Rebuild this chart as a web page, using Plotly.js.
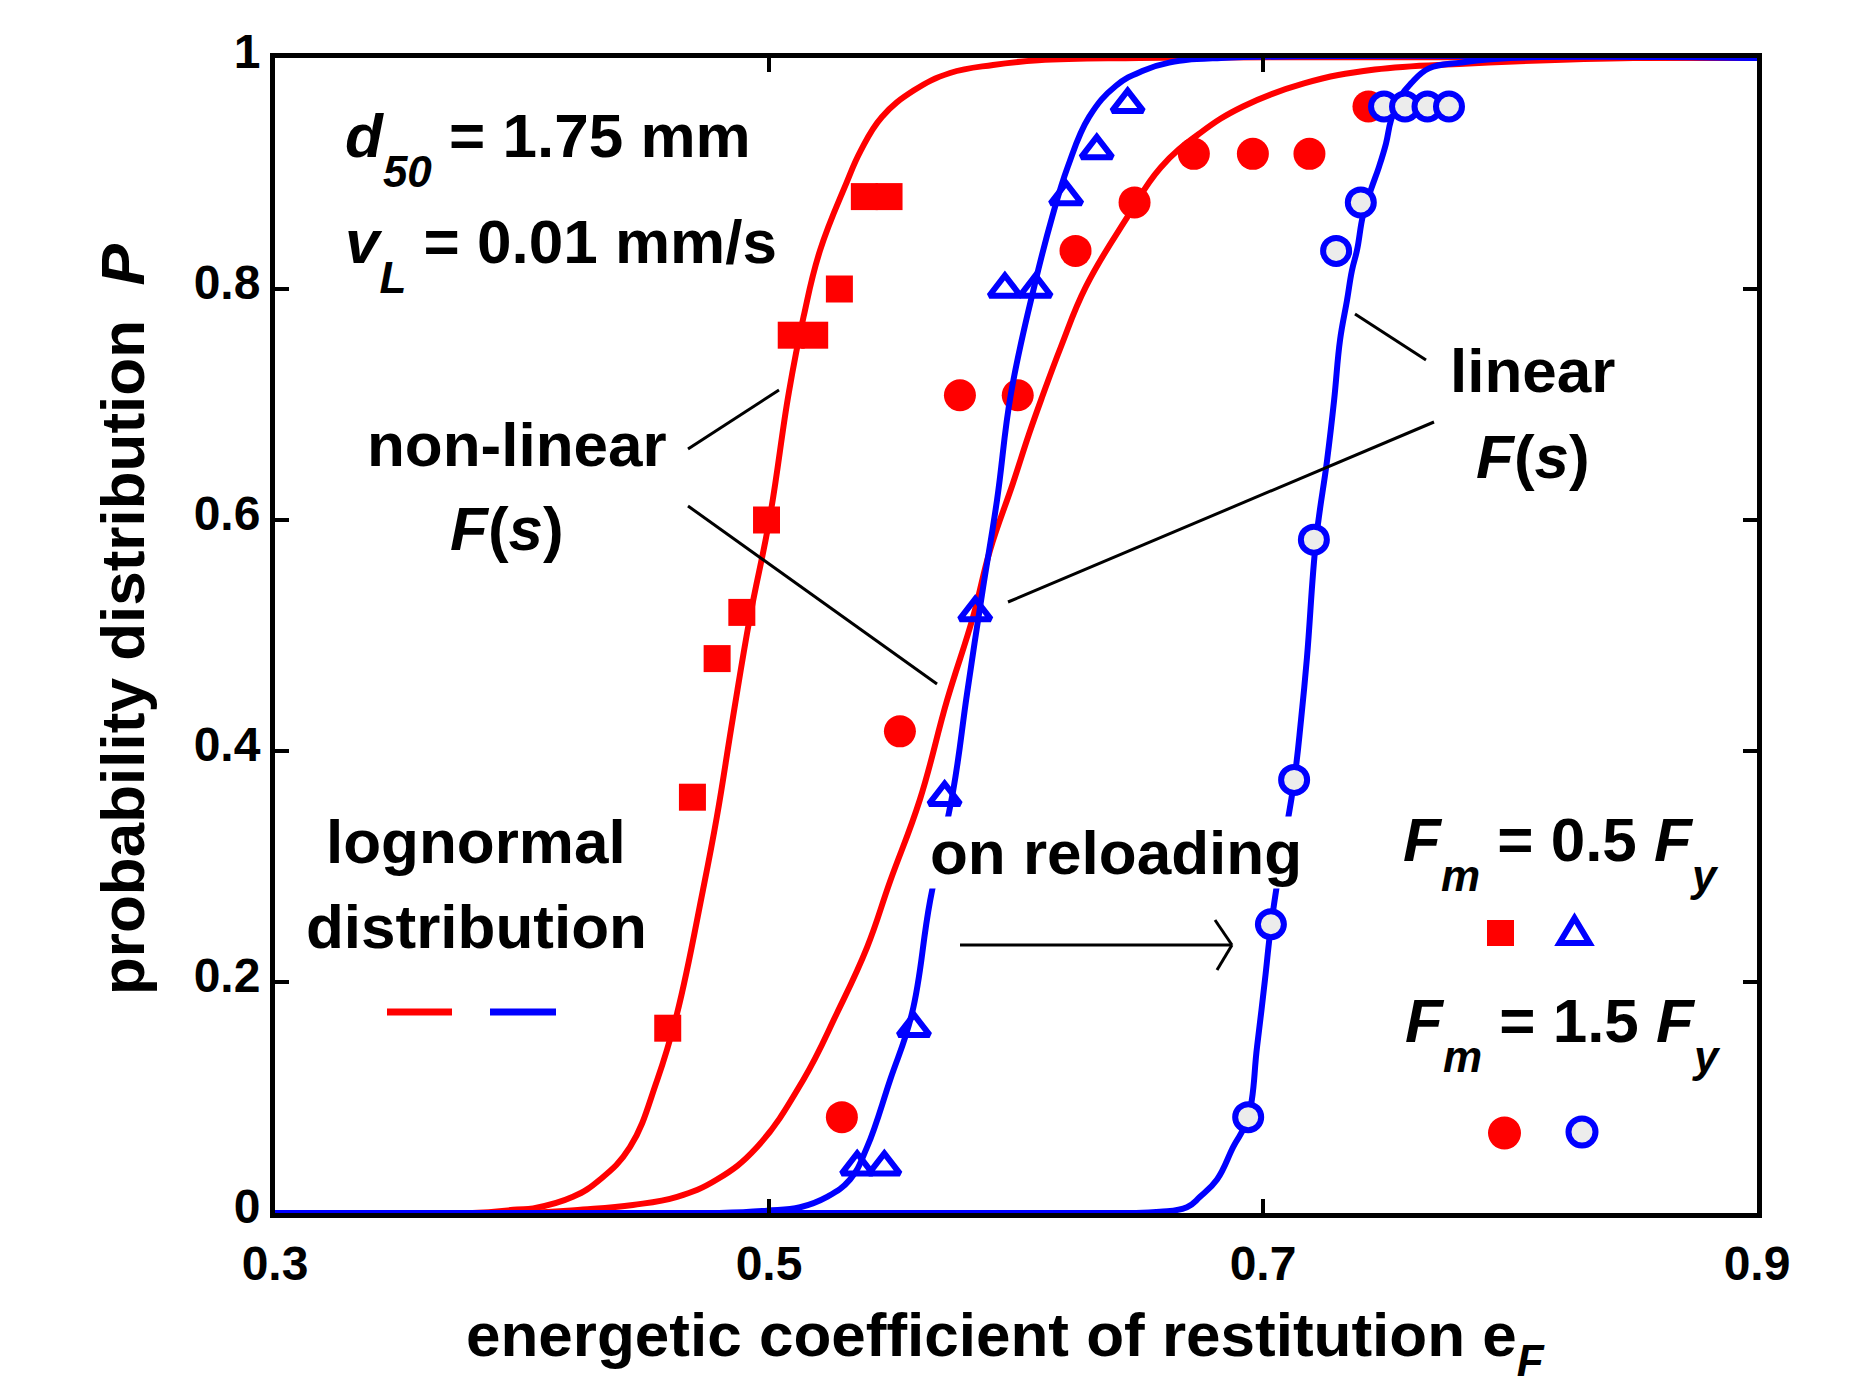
<!DOCTYPE html>
<html>
<head>
<meta charset="utf-8">
<script src="https://cdn.plot.ly/plotly-3.0.1.min.js"></script>
<style>html,body{margin:0;padding:0;background:#fff;}#chart{width:1851px;height:1389px;}</style>
</head>
<body>
<div id="chart"></div>
<script>
// ---------------- data ----------------
// Fm = 0.5 Fy, non-linear F(s): filled red squares
const sqX = [0.459, 0.469, 0.479, 0.489, 0.499, 0.509, 0.5185, 0.5285, 0.5386, 0.5486];
const sqY = [0.16, 0.36, 0.48, 0.52, 0.60, 0.76, 0.76, 0.80, 0.88, 0.88];
// Fm = 0.5 Fy, linear F(s): open blue triangles
const triX = [0.5357, 0.5467, 0.5587, 0.5711, 0.5835, 0.5955, 0.6079, 0.6203, 0.6327, 0.6452];
const triY = [0.04, 0.04, 0.16, 0.36, 0.52, 0.80, 0.80, 0.88, 0.92, 0.96];
// Fm = 1.5 Fy, non-linear F(s): filled red circles
const rcX = [0.5295, 0.553, 0.5773, 0.6007, 0.6241, 0.648, 0.672, 0.6959, 0.7188, 0.7427];
const rcY = [0.083, 0.417, 0.708, 0.708, 0.833, 0.875, 0.917, 0.917, 0.917, 0.958];
// Fm = 1.5 Fy, linear F(s): open blue circles
const bcX = [0.694, 0.7032, 0.7126, 0.7206, 0.7296, 0.7396, 0.749, 0.7575, 0.7666, 0.7753];
const bcY = [0.083, 0.25, 0.375, 0.583, 0.833, 0.875, 0.958, 0.958, 0.958, 0.958];

// lognormal distribution curves
const fitRedAX = [0.30, 0.38, 0.398, 0.4045, 0.4206, 0.4316, 0.4437, 0.4547, 0.4628, 0.4733, 0.4789, 0.4854, 0.4923, 0.5004, 0.508, 0.514, 0.5206, 0.5312, 0.5372, 0.5457, 0.5587, 0.5733, 0.5907, 0.609, 0.65, 0.90];
const fitRedAY = [0, 0, 0.003, 0.004, 0.014, 0.029, 0.057, 0.115, 0.173, 0.28, 0.343, 0.429, 0.516, 0.603, 0.71, 0.776, 0.833, 0.891, 0.920, 0.949, 0.972, 0.987, 0.994, 0.998, 1, 1];

const fitRedBX = [0.30, 0.40, 0.4247, 0.4449, 0.4628, 0.4789, 0.4951, 0.5138, 0.5275, 0.5397, 0.549, 0.5611, 0.5721, 0.5826, 0.5895, 0.5988, 0.6052, 0.6105, 0.6182, 0.6283, 0.645, 0.6585, 0.6745, 0.6919, 0.7166, 0.7453, 0.7814, 0.8016, 0.85, 0.90];
const fitRedBY = [0, 0, 0.003, 0.007, 0.014, 0.029, 0.057, 0.115, 0.173, 0.230, 0.287, 0.358, 0.444, 0.516, 0.574, 0.632, 0.674, 0.706, 0.75, 0.802, 0.862, 0.905, 0.935, 0.958, 0.978, 0.990, 0.995, 0.997, 1, 1];

const fitBlueAX = [0.30, 0.48, 0.4992, 0.5126, 0.5235, 0.5328, 0.5397, 0.549, 0.5579, 0.5652, 0.5745, 0.5802, 0.5862, 0.5923, 0.598, 0.6077, 0.6146, 0.621, 0.6296, 0.6405, 0.6514, 0.662, 0.683, 0.90];
const fitBlueAY = [0, 0, 0.002, 0.005, 0.014, 0.029, 0.057, 0.115, 0.173, 0.27, 0.365, 0.45, 0.535, 0.617, 0.71, 0.805, 0.862, 0.906, 0.949, 0.976, 0.989, 0.996, 1, 1];

const fitBlueBX = [0.30, 0.64, 0.6583, 0.6692, 0.6745, 0.6814, 0.6879, 0.6939, 0.6976, 0.7008, 0.7032, 0.7073, 0.7126, 0.7154, 0.7178, 0.7215, 0.7259, 0.7288, 0.7312, 0.734, 0.736, 0.7381, 0.7405, 0.7437, 0.747, 0.7498, 0.7518, 0.7555, 0.7599, 0.7672, 0.7802, 0.80, 0.90];
const fitBlueBY = [0, 0, 0.001, 0.005, 0.014, 0.029, 0.057, 0.082, 0.144, 0.202, 0.248, 0.306, 0.374, 0.427, 0.481, 0.583, 0.651, 0.704, 0.756, 0.790, 0.816, 0.834, 0.864, 0.886, 0.906, 0.926, 0.946, 0.966, 0.978, 0.991, 0.996, 1, 1];

const xTickVals = [0.3, 0.5, 0.7, 0.9];
const xTickText = ['0.3', '0.5', '0.7', '0.9'];
const yTickVals = [0, 0.2, 0.4, 0.6, 0.8, 1];
const yTickText = ['0', '0.2', '0.4', '0.6', '0.8', '1'];

// ---------------- styling / geometry ----------------
const W = 1851, H = 1389;
const PL = 275, PR = 1757, PT = 58, PB = 1213;
const X0 = 0.3, X1 = 0.9;
const px2x = X => X0 + (X - PL) / (PR - PL) * (X1 - X0);
const py2y = Y => (PB - Y) / (PB - PT);
const px2p = X => (X - PL) / (PR - PL);
const py2p = Y => (PB - Y) / (PB - PT);
const RED = '#ff0000', BLUE = '#0000ff', BLK = '#000000';
const FONT = 'Liberation Sans, Arial, Helvetica, sans-serif';
const AF = 62, SUBF = 44, SUBSH = 30;
const sub = (t, sh) => `<span style="font-size:${SUBF}px;baseline-shift:-${sh || SUBSH}px"><i>${t}</i></span>`;
const SM = 1.2;

const traces = [
  {x: sqX, y: sqY, mode: 'markers', type: 'scatter', name: 'Fm=0.5Fy non-linear',
   marker: {symbol: 'square', size: 27, color: RED, line: {width: 0}}},
  {x: rcX, y: rcY, mode: 'markers', type: 'scatter', name: 'Fm=1.5Fy non-linear',
   marker: {symbol: 'circle', size: 32, color: RED, line: {width: 0}}},
  {x: fitRedAX, y: fitRedAY, mode: 'lines', type: 'scatter', name: 'lognormal A',
   line: {color: RED, width: 6, shape: 'spline', smoothing: SM}},
  {x: fitRedBX, y: fitRedBY, mode: 'lines', type: 'scatter', name: 'lognormal B',
   line: {color: RED, width: 6, shape: 'spline', smoothing: SM}},
  {x: fitBlueAX, y: fitBlueAY, mode: 'lines', type: 'scatter', name: 'lognormal C',
   line: {color: BLUE, width: 6, shape: 'spline', smoothing: SM}},
  {x: fitBlueBX, y: fitBlueBY, mode: 'lines', type: 'scatter', name: 'lognormal D',
   line: {color: BLUE, width: 6, shape: 'spline', smoothing: SM}},
  {x: triX, y: triY, mode: 'markers', type: 'scatter', name: 'Fm=0.5Fy linear',
   marker: {symbol: 'triangle-up-open', size: 27, color: BLUE, line: {width: 6, color: BLUE}}},
  {x: bcX, y: bcY, mode: 'markers', type: 'scatter', name: 'Fm=1.5Fy linear',
   marker: {symbol: 'circle', size: 26, color: '#ececec', line: {width: 6, color: BLUE}}}
];

function seg(xa, ya, xb, yb, w, c) {
  return {type: 'line', xref: 'x', yref: 'y', x0: px2x(xa), y0: py2y(ya), x1: px2x(xb), y1: py2y(yb),
          line: {color: c, width: w}};
}
const shapes = [
  // pointer lines
  seg(688, 449, 779, 390, 3, BLK),
  seg(688, 506, 937, 684, 3, BLK),
  seg(1355, 314, 1426, 360, 3, BLK),
  seg(1008, 602, 1434, 422, 3, BLK),
  // arrow "on reloading"
  seg(960, 945, 1232, 945, 3, BLK),
  seg(1215, 920, 1232, 945, 3, BLK),
  seg(1217, 970, 1232, 945, 3, BLK),
  // lognormal legend segments
  seg(387, 1012, 452, 1012, 7, RED),
  seg(490, 1012, 556, 1012, 7, BLUE),
  // legend glyphs
  {type: 'rect', xref: 'x', yref: 'y', x0: px2x(1487), x1: px2x(1514), y0: py2y(946), y1: py2y(920),
   fillcolor: RED, line: {width: 0}},
  {type: 'path', xref: 'x', yref: 'y',
   path: `M ${px2x(1574.5)} ${py2y(918)} L ${px2x(1559.5)} ${py2y(943)} L ${px2x(1589.5)} ${py2y(943)} Z`,
   fillcolor: 'rgba(0,0,0,0)', line: {color: BLUE, width: 6}},
  {type: 'circle', xref: 'x', yref: 'y', x0: px2x(1488), x1: px2x(1521), y0: py2y(1149.5), y1: py2y(1116.5),
   fillcolor: RED, line: {width: 0}},
  {type: 'circle', xref: 'x', yref: 'y', x0: px2x(1568.5), x1: px2x(1595.5), y0: py2y(1145.5), y1: py2y(1118.5),
   fillcolor: '#ececec', line: {color: BLUE, width: 6}}
];

function ann(text, X, base, xanchor, extra, size) {
  const f = size || AF;
  const a = {text: text, xref: 'paper', yref: 'paper', showarrow: false,
    x: px2p(xanchor === 'left' ? X - 2 : X), y: py2p(base - 0.905 * f - 2),
    xanchor: xanchor, yanchor: 'top', align: xanchor,
    font: {family: FONT, size: f, color: BLK, weight: 'bold'}};
  return Object.assign(a, extra || {});
}
const annotations = [
  ann('<i>d</i>' + sub('50') + ' = 1.75 mm', 345, 157, 'left'),
  ann('<i>v</i>' + sub('L') + ' = 0.01 mm/s', 345, 263, 'left'),
  ann('non-linear', 367, 466, 'left'),
  ann('<i>F</i>(<i>s</i>)', 507, 550, 'center'),
  ann('linear', 1450, 392, 'left'),
  ann('<i>F</i>(<i>s</i>)', 1533, 478, 'center'),
  ann('lognormal', 476, 863, 'center'),
  ann('distribution', 476, 948, 'center'),
  ann('on reloading', 930, 874, 'left', {bgcolor: '#ffffff'}),
  ann('<i>F</i>' + sub('m') + ' = 0.5 <i>F</i>' + sub('y'), 1403, 861, 'left'),
  ann('<i>F</i>' + sub('m') + ' = 1.5 <i>F</i>' + sub('y'), 1405, 1042, 'left'),
  // axis titles
  ann('energetic coefficient of restitution e' + sub('F', 20), 1005, 1356, 'center'),
  {text: 'probability distribution\u00a0 <i>P</i>', xref: 'paper', yref: 'paper', showarrow: false,
   x: px2p(122), y: py2p(619), xanchor: 'center', yanchor: 'middle', textangle: -90,
   font: {family: FONT, size: AF, color: BLK, weight: 'bold'}}
];

const axisCommon = {
  ticks: 'inside', ticklen: 14, tickwidth: 4, tickcolor: BLK,
  showline: true, linewidth: 5, linecolor: BLK, mirror: 'ticks',
  showgrid: false, zeroline: false, automargin: false, fixedrange: true,
  tickfont: {family: FONT, size: 48, color: BLK, weight: 'bold'}
};

const layout = {
  width: W, height: H,
  margin: {l: PL, r: W - PR, t: PT, b: H - PB, pad: 0},
  paper_bgcolor: '#ffffff', plot_bgcolor: '#ffffff',
  font: {family: FONT, size: 48, color: BLK, weight: 'bold'},
  showlegend: false,
  xaxis: Object.assign({}, axisCommon, {
    range: [X0, X1], tickmode: 'array', tickvals: xTickVals, ticktext: xTickText,
    ticklabelstandoff: 4
  }),
  yaxis: Object.assign({}, axisCommon, {
    range: [0, 1], tickmode: 'array', tickvals: yTickVals, ticktext: yTickText,
    ticklabelshift: -7
  }),
  shapes: shapes,
  annotations: annotations
};

Plotly.newPlot('chart', traces, layout, {displayModeBar: false, staticPlot: true});
</script>
</body>
</html>
